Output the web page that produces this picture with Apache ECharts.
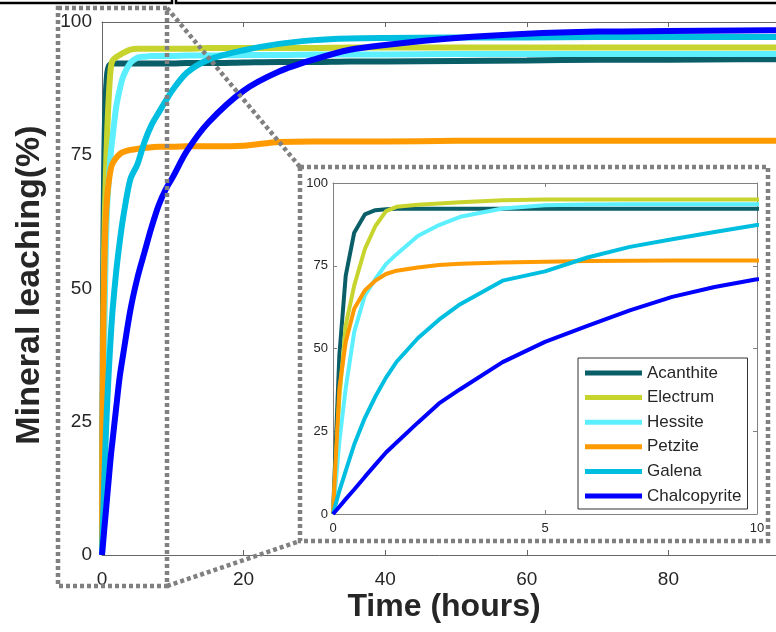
<!DOCTYPE html>
<html><head><meta charset="utf-8">
<script src="https://cdn.jsdelivr.net/npm/echarts@6/dist/echarts.min.js"></script>
<style>html,body{margin:0;padding:0;background:#fff}#c{width:776px;height:632px}</style>
</head><body><div id="c"></div>
<script>
// time (hours)
const time = [0, 0.15, 0.3, 0.5, 0.75, 1, 1.25, 1.5, 2, 2.5, 3, 4, 5, 6, 7, 8, 9, 10, 12, 15, 20, 25, 30, 35, 40, 50, 60, 70, 80, 90, 100];
// mineral leaching (%)
const acanthite    = [0, 48, 72, 85, 90.5, 91.8, 92.1, 92.2, 92.2, 92.2, 92.2, 92.2, 92.2, 92.2, 92.2, 92.2, 92.2, 92.2, 92.3, 92.3, 92.4, 92.5, 92.5, 92.6, 92.6, 92.7, 92.8, 92.9, 92.9, 93.0, 93.0];
const electrum     = [0, 35, 57, 69, 80, 87, 91.5, 92.8, 93.4, 93.8, 94.2, 94.8, 95, 95, 95, 95, 95, 95, 95, 95.1, 95.1, 95.1, 95.1, 95.2, 95.2, 95.2, 95.2, 95.2, 95.2, 95.2, 95.2];
const hessite      = [0, 22, 38, 55, 66, 71, 75.5, 78.5, 84, 87.3, 89.8, 92.3, 93.3, 93.5, 93.6, 93.6, 93.6, 93.6, 93.7, 93.7, 93.8, 93.8, 93.9, 93.9, 93.9, 94.0, 94.0, 94.0, 94.0, 94.0, 94.0];
const petzite      = [0, 38, 52, 62, 67.5, 70.5, 72.5, 73.5, 74.5, 75.2, 75.6, 76, 76.2, 76.4, 76.5, 76.6, 76.6, 76.6, 76.7, 76.7, 76.8, 77.5, 77.6, 77.6, 77.6, 77.7, 77.7, 77.7, 77.7, 77.7, 77.7];
const galena       = [0, 7, 13, 21, 29, 35.5, 41.2, 46, 53.1, 58.7, 63.4, 70.5, 73.3, 77.5, 80.7, 83, 85.2, 87.3, 90.5, 92.9, 94.7, 95.9, 96.6, 96.9, 97, 97.1, 97.1, 97.2, 97.2, 97.2, 97.2];
const chalcopyrite = [0, 2.2, 4.5, 7.4, 11.2, 14.9, 18.6, 21.6, 27.6, 33.4, 37.7, 45.9, 52, 56.8, 61.5, 65.6, 68.6, 70.9, 75.8, 81.1, 87.1, 90.7, 93, 94.8, 95.7, 97, 97.8, 98.2, 98.3, 98.4, 98.5];

const seriesNames = ['Acanthite', 'Electrum', 'Hessite', 'Petzite', 'Galena', 'Chalcopyrite'];
const seriesValues = [acanthite, electrum, hessite, petzite, galena, chalcopyrite];
const seriesColors = ['#0a5e68', '#c8d42e', '#5cefff', '#ff9a00', '#00bee0', '#0000ff'];

const FONT = '"Liberation Sans", Arial, Helvetica, sans-serif';
const TXT = '#262626';

function xAx(grid, pos, max, interval, labels, fs, margin, color, tickLen) {
  return {
    type: 'value', gridIndex: grid, position: pos, min: 0, max: max, interval: interval,
    axisLine: { show: true, onZero: false, lineStyle: { color: color, width: 1 } },
    axisTick: { show: true, inside: true, length: tickLen, lineStyle: { color: color } },
    axisLabel: { show: labels, fontSize: fs, margin: margin, color: TXT, fontFamily: FONT, showMinLabel: true, showMaxLabel: true },
    splitLine: { show: false }
  };
}
function yAx(grid, pos, labels, fs, margin, color, tickLen) {
  return {
    type: 'value', gridIndex: grid, position: pos, min: 0, max: 100, interval: 25,
    axisLine: { show: true, onZero: false, lineStyle: { color: color, width: 1 } },
    axisTick: { show: true, inside: true, length: tickLen, lineStyle: { color: color } },
    axisLabel: { show: labels, fontSize: fs, margin: margin, color: TXT, fontFamily: FONT, showMinLabel: true, showMaxLabel: true },
    splitLine: { show: false }
  };
}

const series = [];
seriesNames.forEach((n, i) => {
  const data = time.map((t, j) => [t, seriesValues[i][j]]);
  series.push({ name: n, type: 'line', xAxisIndex: 0, yAxisIndex: 0, data: data, symbol: 'none', z: 2,
    smooth: 0.3,
    color: seriesColors[i], lineStyle: { width: 6, color: seriesColors[i] }, clip: true });
});
seriesNames.forEach((n, i) => {
  const data = time.map((t, j) => [t, seriesValues[i][j]]);
  series.push({ name: n, type: 'line', xAxisIndex: 2, yAxisIndex: 1, data: data, symbol: 'none', z: 3,
    color: seriesColors[i], lineStyle: { width: 4, color: seriesColors[i] }, clip: true });
});

const dot = { fill: 'none', stroke: '#808080', lineWidth: 4.5, lineDash: [4, 3] };

const option = {
  animation: false,
  backgroundColor: '#fff',
  grid: [
    { left: 102, top: 22, width: 708, height: 533, outerBoundsMode: 'none', containLabel: false },
    { left: 333, top: 183, width: 424, height: 331, outerBoundsMode: 'none', containLabel: false }
  ],
  xAxis: [
    xAx(0, 'bottom', 100, 20, true, 19, 15, '#666', 5),
    xAx(0, 'top', 100, 20, false, 19, 15, '#666', 5),
    xAx(1, 'bottom', 10, 5, true, 13, 8, '#808080', 4),
    xAx(1, 'top', 10, 5, false, 13, 8, '#808080', 4)
  ],
  yAxis: [
    yAx(0, 'left', true, 19, 10, '#666', 5),
    yAx(1, 'left', true, 13, 5, '#808080', 4),
    yAx(1, 'right', false, 13, 5, '#808080', 4)
  ],
  legend: {
    data: seriesNames, orient: 'vertical', left: 578, top: 358,
    padding: [5, 6, 3, 7], itemGap: 4.6, itemWidth: 57, itemHeight: 5, icon: 'rect',
    backgroundColor: '#fff', borderColor: '#333', borderWidth: 1, borderRadius: 0,
    selectedMode: false, z: 10,
    textStyle: { fontSize: 17, lineHeight: 20, color: TXT, fontFamily: FONT }
  },
  series: series,
  graphic: [
    { type: 'rect', z: 100, shape: { x: -5, y: -10, width: 177, height: 13 }, style: { fill: 'none', stroke: '#000', lineWidth: 2.5 } },
    { type: 'rect', z: 100, shape: { x: 176, y: -10, width: 620, height: 13 }, style: { fill: 'none', stroke: '#000', lineWidth: 2.5 } },
    { type: 'rect', z: 100, shape: { x: 58, y: 8, width: 109, height: 578 }, style: dot },
    { type: 'line', z: 100, shape: { x1: 167, y1: 8, x2: 300, y2: 167 }, style: dot },
    { type: 'line', z: 100, shape: { x1: 167, y1: 586, x2: 300, y2: 541 }, style: dot },
    { type: 'rect', z: 100, shape: { x: 300, y: 167, width: 468, height: 374 }, style: dot },
    { type: 'text', z: 100, x: 444, y: 607, style: { text: 'Time (hours)', fontSize: 32, fontWeight: 'bold', fontFamily: FONT, fill: TXT, align: 'center', verticalAlign: 'middle' } },
    { type: 'text', z: 100, x: 30, y: 285, rotation: Math.PI / 2, style: { text: 'Mineral leaching(%)', fontSize: 34, fontWeight: 'bold', fontFamily: FONT, fill: TXT, align: 'center', verticalAlign: 'middle' } }
  ]
};
const chart = echarts.init(document.getElementById('c'), null, { renderer: 'canvas' });
chart.setOption(option);
</script>
</body></html>
